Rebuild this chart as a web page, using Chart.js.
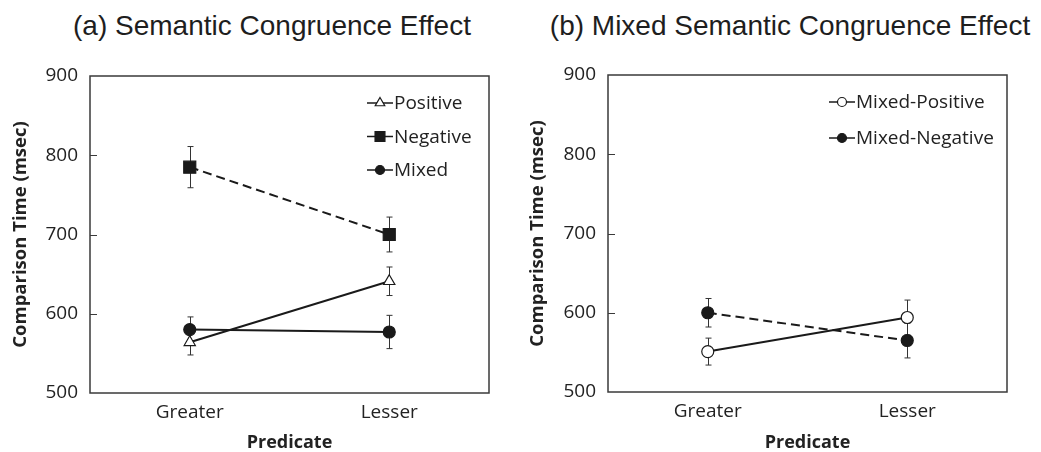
<!DOCTYPE html>
<html>
<head>
<meta charset="utf-8">
<title>Semantic Congruence Effect</title>
<script src="https://cdn.jsdelivr.net/npm/chart.js@4.4.1/dist/chart.umd.min.js"></script>
<style>
  body { margin: 0; background: #fff; }
  #page { position: relative; width: 1041px; height: 452px; overflow: hidden; }
  .panel { position: absolute; top: 0; }
  .title {
    position: absolute; top: 10px; line-height: 28px; color: #1e1e1e;
    font: 28px 'Liberation Sans', Arial, sans-serif; text-align: center; white-space: nowrap;
  }
</style>
</head>
<body>
<div id="page">
  <div class="title" style="left:0;width:544px">(a) Semantic Congruence Effect</div>
  <div class="title" style="left:539px;width:502px">(b) Mixed Semantic Congruence Effect</div>
  <div class="panel" style="left:0"><canvas id="chartA" width="520" height="452"></canvas></div>
  <div class="panel" style="left:520px"><canvas id="chartB" width="521" height="452"></canvas></div>
</div>
<script>
const predicates = ['Greater', 'Lesser'];
const yTicks = [500, 600, 700, 800, 900];

// panel (a)
const positive = [564, 641];
const positiveErr = [16, 18];
const negative = [785, 700];
const negativeErr = [26, 22];
const mixed = [580, 577];
const mixedErr = [16, 21];

// panel (b)
const mixedPositive = [551, 594];
const mixedPositiveErr = [17, 22];
const mixedNegative = [600, 565];
const mixedNegativeErr = [18, 22];

const INK = '#1a1a1a';
const FONT = 'Open Sans';

function drawMarker(ctx, style, x, y, r) {
  ctx.beginPath();
  if (style === 'rect') {
    const s = r / Math.SQRT2;
    ctx.rect(x - s, y - s, 2 * s, 2 * s);
  } else if (style === 'triangle') {
    let a = 0;
    ctx.moveTo(x + Math.sin(a) * r, y - Math.cos(a) * r);
    a += Math.PI * 2 / 3;
    ctx.lineTo(x + Math.sin(a) * r, y - Math.cos(a) * r);
    a += Math.PI * 2 / 3;
    ctx.lineTo(x + Math.sin(a) * r, y - Math.cos(a) * r);
    ctx.closePath();
  } else {
    ctx.arc(x, y, r, 0, Math.PI * 2);
  }
  ctx.fill();
  ctx.stroke();
}

// box around the plot area plus inward tick marks on the value axis
const framePlugin = {
  id: 'frame',
  afterDraw(chart) {
    const { ctx, chartArea: a, scales: { y } } = chart;
    ctx.save();
    ctx.strokeStyle = '#3a3a3a';
    ctx.lineWidth = 1.5;
    ctx.strokeRect(a.left, a.top, a.right - a.left, a.bottom - a.top);
    ctx.beginPath();
    yTicks.slice(1, -1).forEach(v => {
      const py = Math.round(y.getPixelForValue(v)) + 0.5;
      ctx.moveTo(a.left, py);
      ctx.lineTo(a.left + 7, py);
    });
    ctx.lineWidth = 1;
    ctx.stroke();
    ctx.restore();
  }
};

// vertical error bars with small caps, drawn under the lines
const errorBarPlugin = {
  id: 'errorBars',
  beforeDatasetsDraw(chart) {
    const { ctx, scales: { y } } = chart;
    ctx.save();
    ctx.strokeStyle = '#333';
    ctx.lineWidth = 1;
    chart.data.datasets.forEach((ds, i) => {
      const meta = chart.getDatasetMeta(i);
      meta.data.forEach((pt, j) => {
        const v = ds.data[j], e = ds.errors[j];
        const x = Math.round(pt.x) + 0.5;
        const top = y.getPixelForValue(v + e);
        const bot = y.getPixelForValue(v - e);
        ctx.beginPath();
        ctx.moveTo(x, top); ctx.lineTo(x, bot);
        ctx.moveTo(x - 3, top); ctx.lineTo(x + 3, top);
        ctx.moveTo(x - 3, bot); ctx.lineTo(x + 3, bot);
        ctx.stroke();
      });
    });
    ctx.restore();
  }
};

// legend inside the plot: short line, marker, label
const lineLegendPlugin = {
  id: 'lineLegend',
  afterDatasetsDraw(chart, args, opts) {
    const { ctx, chartArea: a } = chart;
    ctx.save();
    ctx.font = `19px '${FONT}'`;
    ctx.textBaseline = 'middle';
    chart.data.datasets.forEach((ds, i) => {
      const x = a.left + opts.x;
      const y = a.top + opts.y + i * opts.gap;
      ctx.strokeStyle = INK;
      ctx.lineWidth = 1.5;
      ctx.beginPath();
      ctx.moveTo(x, y); ctx.lineTo(x + 26, y);
      ctx.stroke();
      ctx.fillStyle = ds.pointBackgroundColor;
      ctx.lineWidth = 1.2;
      drawMarker(ctx, ds.pointStyle, x + 13, y, ds.legendRadius);
      ctx.fillStyle = '#222';
      ctx.fillText(ds.label, x + 27, y + 1);
    });
    ctx.restore();
  }
};

function series(label, data, errors, style, radius, legendRadius, fill, dashed) {
  return {
    label, data, errors, legendRadius,
    borderColor: INK,
    borderWidth: 2,
    borderDash: dashed ? [9, 5] : [],
    tension: 0,
    pointStyle: style,
    pointRadius: radius,
    pointHoverRadius: radius,
    pointBackgroundColor: fill,
    pointBorderColor: INK,
    pointBorderWidth: 1.2
  };
}

function buildOptions(cfg) {
  const tickFont = { family: FONT, size: 19 };
  return {
    responsive: false,
    animation: false,
    layout: { padding: { top: cfg.top, right: cfg.right, bottom: 0, left: 0 } },
    plugins: {
      legend: { display: false },
      tooltip: { enabled: false },
      lineLegend: cfg.legend
    },
    scales: {
      x: {
        type: 'category',
        offset: true,
        grid: { display: false, drawTicks: false },
        border: { display: false },
        ticks: { color: '#222', font: tickFont, padding: 8 },
        title: {
          display: true, text: 'Predicate', color: '#222',
          font: { family: FONT, size: 18, weight: 'bold', lineHeight: 1 }, padding: 0
        },
        afterFit(s) { s.height = cfg.xHeight; }
      },
      y: {
        min: 500,
        max: 900,
        afterBuildTicks(s) { s.ticks = yTicks.map(v => ({ value: v })); },
        grid: { display: false, drawTicks: false },
        border: { display: false },
        ticks: { color: '#222', font: tickFont, padding: 12 },
        title: {
          display: true, text: 'Comparison Time (msec)', color: '#222',
          font: { family: FONT, size: 18.5, weight: 'bold' },
          padding: { top: cfg.yTitlePad, bottom: 0 }
        },
        afterFit(s) { s.width = cfg.yWidth; }
      }
    }
  };
}

const plugins = [errorBarPlugin, framePlugin, lineLegendPlugin];

new Chart(document.getElementById('chartA'), {
  type: 'line',
  data: {
    labels: predicates,
    datasets: [
      series('Positive', positive, positiveErr, 'triangle', 6.5, 5.5, '#fff', false),
      series('Negative', negative, negativeErr, 'rect', 8.5, 7, INK, true),
      series('Mixed', mixed, mixedErr, 'circle', 6, 4.5, INK, false)
    ]
  },
  options: buildOptions({
    top: 76, right: 31, xHeight: 59, yWidth: 90, yTitlePad: 10,
    legend: { x: 277, y: 27, gap: 33.5 }
  }),
  plugins
});

new Chart(document.getElementById('chartB'), {
  type: 'line',
  data: {
    labels: predicates,
    datasets: [
      series('Mixed-Positive', mixedPositive, mixedPositiveErr, 'circle', 6, 4.5, '#fff', false),
      series('Mixed-Negative', mixedNegative, mixedNegativeErr, 'circle', 6, 4.5, INK, true)
    ]
  },
  options: buildOptions({
    top: 75, right: 34, xHeight: 60, yWidth: 88, yTitlePad: 7,
    legend: { x: 221, y: 27, gap: 36 }
  }),
  plugins
});
</script>
</body>
</html>
